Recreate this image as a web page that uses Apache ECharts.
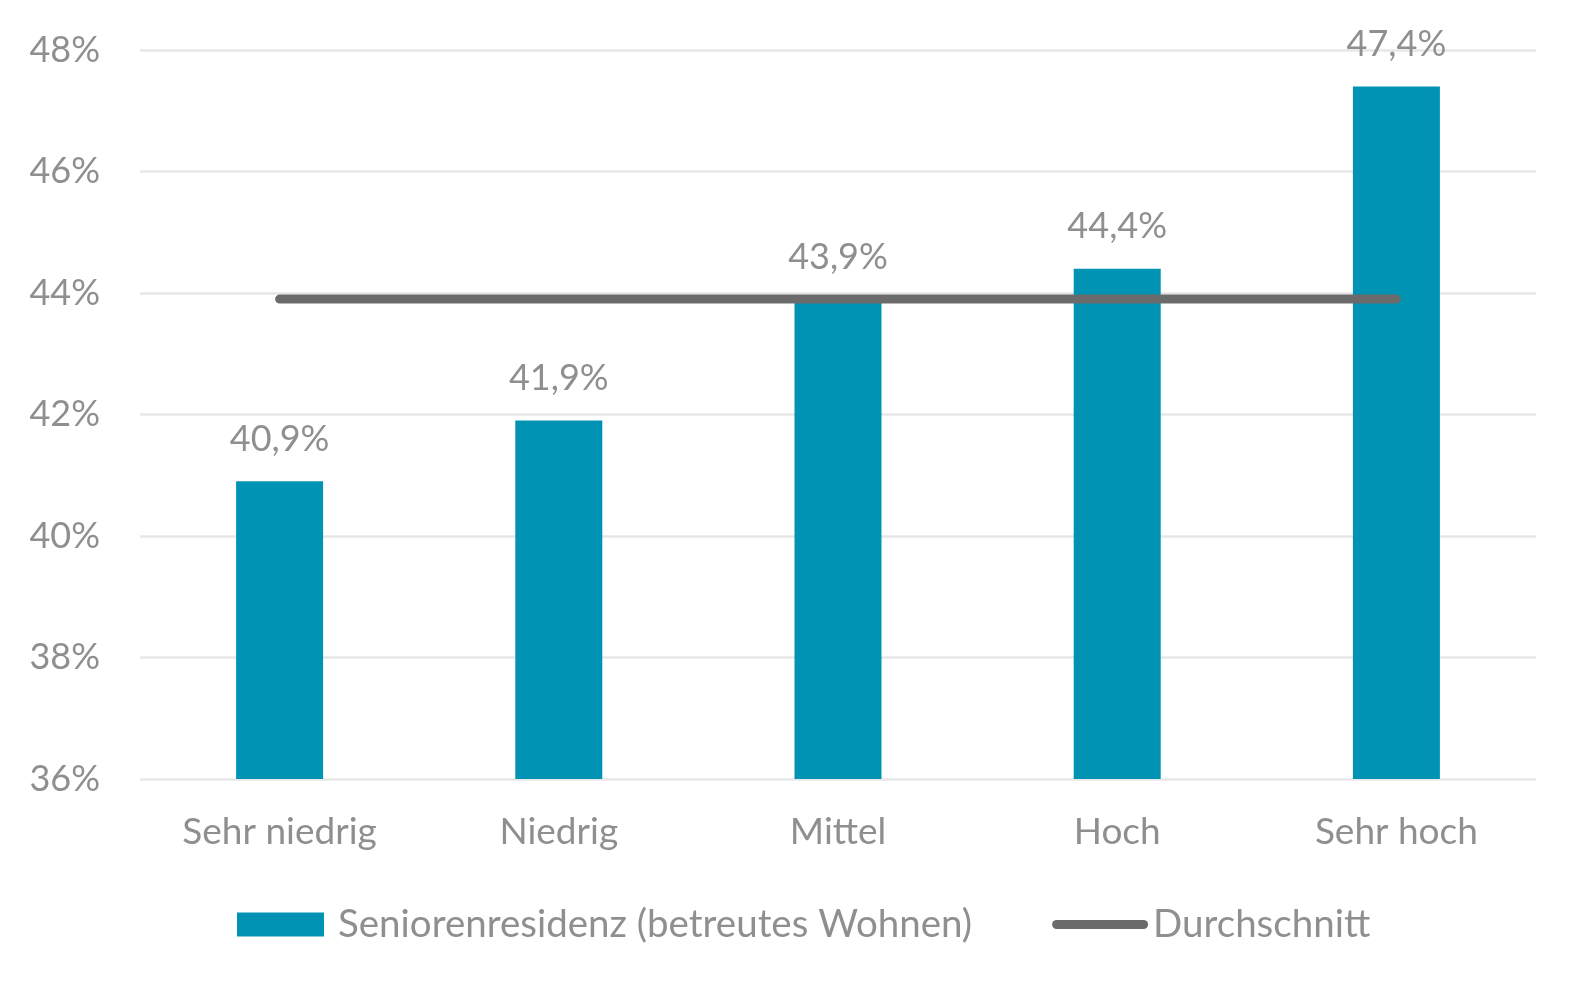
<!DOCTYPE html>
<html>
<head>
<meta charset="utf-8">
<script src="https://cdn.jsdelivr.net/npm/echarts@6/dist/echarts.min.js"></script>
<style>
	html, body { margin:0; padding:0; background:#fff; }
	#echarts { width:1586px; height:990px; }
</style>
</head>
<body>
<div id="echarts"></div>
<script type="text/javascript">
	var categories = ['Sehr niedrig', 'Niedrig', 'Mittel', 'Hoch', 'Sehr hoch'];
	var seniorenValues = [40.9, 41.9, 43.9, 44.4, 47.4];
	var durchschnittValues = [43.9, 43.9, 43.9, 43.9, 43.9];
	var seriesNames = ['Seniorenresidenz (betreutes Wohnen)', 'Durchschnitt'];

	var textGray = '#8f8f8f';
	var lineGray = '#6a6b6a';
	var barBlue = '#0093b4';
	var font = 'Lato';

	// legend icons share one box (96x24); the tiny zero-length segments only fix the bounds
	var rectIcon = 'path://M0,0L87,0L87,24L0,24Z M96,0L96,0';
	var lineIcon = 'path://M0,0L0,0 M96,24L96,24 M4.5,7.5L91.5,7.5A4.5,4.5,0,0,1,91.5,16.5L4.5,16.5A4.5,4.5,0,0,1,4.5,7.5Z';

	var thechart = echarts.init(document.getElementById('echarts'));
	var theoption = {
		animation: false,
		textStyle: { fontFamily: font },
		grid: {
			left: 140,
			right: 50,
			top: 50,
			bottom: 211
		},
		legend: {
			left: 232,
			top: 900,
			itemWidth: 96,
			itemHeight: 24,
			itemGap: 80,
			textStyle: {
				color: textGray,
				fontSize: 38.5,
				fontFamily: font
			},
			data: [
				{ name: seriesNames[0], icon: rectIcon, itemStyle: { color: barBlue } },
				{ name: seriesNames[1], icon: lineIcon, itemStyle: { color: lineGray } }
			]
		},
		xAxis: [
			{
				type: 'category',
				data: categories,
				axisLine: { show: false },
				axisTick: { show: false },
				axisLabel: {
					color: textGray,
					fontSize: 37,
					fontFamily: font,
					margin: 35
				}
			}
		],
		yAxis: [
			{
				type: 'value',
				min: 36,
				max: 48,
				interval: 2,
				axisLine: { show: false },
				axisTick: { show: false },
				axisLabel: {
					formatter: '{value}%',
					color: textGray,
					fontSize: 36,
					fontFamily: font,
					margin: 40
				},
				splitLine: {
					lineStyle: { color: '#e7e7e7', width: 2.5 }
				}
			}
		],
		series: [
			{
				name: seriesNames[0],
				type: 'bar',
				data: seniorenValues,
				barWidth: 87,
				itemStyle: { color: barBlue },
				label: {
					show: true,
					position: 'top',
					distance: 24,
					color: textGray,
					fontSize: 36,
					fontFamily: font,
					formatter: function (p) {
						return p.value.toFixed(1).replace('.', ',') + '%';
					}
				}
			},
			{
				name: seriesNames[1],
				type: 'line',
				data: durchschnittValues,
				symbol: 'none',
				itemStyle: { color: lineGray },
				lineStyle: { color: lineGray, width: 9, cap: 'round' },
				z: 3
			}
		]
	};
	thechart.setOption(theoption, true);
</script>
</body>
</html>
